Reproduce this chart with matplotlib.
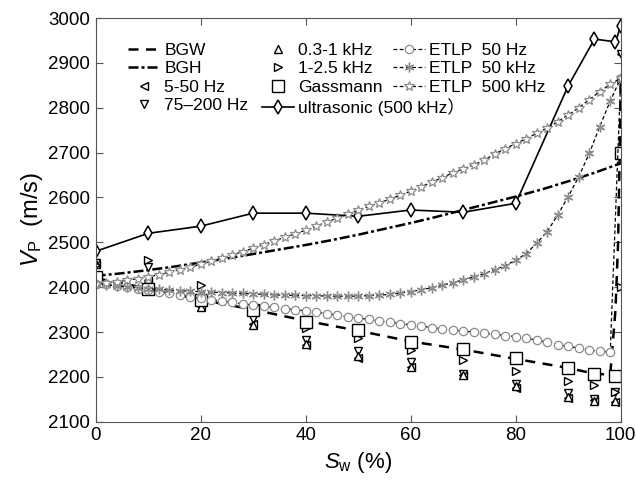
import matplotlib
matplotlib.use("Agg")
import matplotlib.pyplot as plt
from matplotlib.legend import Legend
from matplotlib.legend_handler import HandlerLine2D

plt.rcParams['font.family'] = ['Liberation Sans', 'Noto Sans CJK SC', 'DejaVu Sans']
plt.rcParams['mathtext.fontset'] = 'custom'
plt.rcParams['mathtext.rm'] = 'Liberation Sans'
plt.rcParams['mathtext.it'] = 'Liberation Sans:italic'

# ---- data ----
sw_bg = [0, 5, 10, 15, 20, 25, 30, 35, 40, 45, 50, 55, 60, 65, 70, 75, 80, 85, 90, 95, 100]
bgh = [2425, 2431, 2438, 2446, 2455, 2464, 2474, 2484, 2494, 2505, 2517, 2530,
       2543, 2557, 2572, 2587, 2602, 2618, 2636, 2655, 2676]

sw_bgw = [0, 10, 20, 30, 40, 50, 60, 70, 80, 90, 95, 98, 99, 99.5, 99.8, 100]
bgw = [2420, 2397, 2372, 2350, 2325, 2303, 2279, 2261, 2240, 2220, 2207, 2205,
       2350, 2500, 2700, 2866]

sw_meas = [0, 10, 20, 30, 40, 50, 60, 70, 80, 90, 95, 99, 100]
hz_5_50 = [2452, 2415, 2358, 2318, 2270, 2243, 2222, 2205, 2176, 2152, 2148, 2145, 2920]
hz_75_200 = [2453, 2444, 2368, 2328, 2283, 2257, 2234, 2207, 2185, 2163, 2150, 2167, 2920]
khz_03_1 = [2452, 2418, 2355, 2316, 2274, 2246, 2221, 2204, 2180, 2156, 2146, 2147, 2866]
khz_1_25 = [2450, 2460, 2405, 2352, 2308, 2286, 2260, 2237, 2214, 2191, 2182, 2167, 2400]

sw_gass = [0, 10, 20, 30, 40, 50, 60, 70, 80, 90, 95, 99, 100]
gassmann = [2423, 2395, 2371, 2350, 2323, 2304, 2278, 2262, 2241, 2220, 2206, 2202, 2700]

sw_us = [0, 10, 20, 30, 40, 50, 60, 70, 80, 90, 95, 99, 100]
ultrasonic = [2480, 2520, 2536, 2565, 2565, 2558, 2572, 2567, 2587, 2849, 2953, 2947, 2982]

sw_etlp = list(range(0, 101, 2))
etlp_50hz = [2408, 2406, 2403, 2400, 2397, 2394, 2390, 2386, 2382, 2378,
             2375, 2372, 2369, 2366, 2363, 2360, 2357, 2355, 2352, 2350,
             2347, 2344, 2341, 2338, 2334, 2331, 2328, 2325, 2322, 2319,
             2316, 2313, 2310, 2307, 2305, 2302, 2300, 2297, 2295, 2292,
             2290, 2286, 2282, 2277, 2272, 2268, 2264, 2260, 2257, 2255, 2866]
etlp_50khz = [2408, 2405, 2403, 2401, 2399, 2397, 2395, 2394, 2392, 2391,
              2390, 2389, 2388, 2387, 2386, 2385, 2384, 2383, 2382, 2382,
              2381, 2381, 2380, 2380, 2380, 2380, 2381, 2382, 2384, 2387,
              2390, 2394, 2399, 2404, 2410, 2416, 2423, 2430, 2439, 2448,
              2460, 2475, 2498, 2524, 2561, 2602, 2646, 2698, 2758, 2815, 2866]
etlp_500khz = [2408, 2410, 2412, 2415, 2419, 2423, 2428, 2433, 2439, 2445,
               2451, 2458, 2465, 2472, 2479, 2487, 2495, 2503, 2511, 2519,
               2527, 2536, 2545, 2554, 2563, 2572, 2580, 2588, 2596, 2605,
               2614, 2624, 2634, 2644, 2655, 2664, 2673, 2683, 2697, 2709,
               2720, 2731, 2743, 2755, 2769, 2784, 2800, 2818, 2836, 2852, 2866]

GREY = '#8c8c8c'
tri = dict(ls='none', mfc='white', mec='k', ms=6, mew=1)


class MarkerAt(HandlerLine2D):
    # legend handle with the marker placed left of centre (MATLAB look)
    def __init__(self, frac, **kw):
        super().__init__(**kw)
        self.frac = frac

    def get_xdata(self, legend, xdescent, ydescent, width, height, fontsize):
        xdata = [-xdescent, -xdescent + width]
        return xdata, [-xdescent + self.frac * width]


fig = plt.figure(figsize=(6.36, 4.87), dpi=100)
ax = fig.add_axes([0.1505, 0.134, 0.8255, 0.829])

l_bgw, = ax.plot(sw_bgw, bgw, color='k', lw=1.8, dashes=(4, 3), label='BGW')
l_bgh, = ax.plot(sw_bg, bgh, color='k', lw=1.8, dashes=(4, 1.2, 1.2, 1.2), label='BGH')
l_5, = ax.plot(sw_meas, hz_5_50, '<', label='5-50 Hz', **tri)
l_75, = ax.plot(sw_meas, hz_75_200, 'v', label='75\u2013200 Hz', **tri)
l_03, = ax.plot(sw_meas, khz_03_1, '^', label='0.3-1 kHz', **tri)
l_1, = ax.plot(sw_meas, khz_1_25, '>', label='1-2.5 kHz', **tri)
l_g, = ax.plot(sw_gass, gassmann, 's', ls='none', mfc='white', mec='k', ms=8.5, mew=1,
               label='Gassmann')
l_us, = ax.plot(sw_us, ultrasonic, '-', color='k', lw=1.2, marker='d', mfc='white', mec='k',
                ms=7, mew=1.1, label='ultrasonic (500 kHz\uff09')
l_e1, = ax.plot(sw_etlp, etlp_50hz, color='k', lw=0.9, dashes=(3, 2), marker='o', mfc='white',
                mec=GREY, ms=6, mew=0.9, label='ETLP  50 Hz')
l_e2, = ax.plot(sw_etlp, etlp_50khz, color='k', lw=0.9, dashes=(3, 2), marker=(6, 2, 0),
                mec=GREY, ms=7, mew=1.0, label='ETLP  50 kHz')
l_e3, = ax.plot(sw_etlp, etlp_500khz, color='k', lw=0.9, dashes=(3, 2), marker='*', mfc='white',
                mec=GREY, ms=7, mew=0.9, label='ETLP  500 kHz')

ax.set_xlim(0, 100)
ax.set_ylim(2100, 3000)
ax.set_xticks([0, 20, 40, 60, 80, 100])
ax.set_yticks(range(2100, 3001, 100))
ax.tick_params(direction='in', top=True, right=True, labelsize=13.5, length=5,
               color='#555555', width=0.8, pad=4)
for s in ax.spines.values():
    s.set_color('#555555')
    s.set_linewidth(0.8)

ax.set_xlabel(r'$S_\mathrm{w}$ (%)', fontsize=16, labelpad=4)
ax.set_ylabel(r'$V_\mathrm{P}$  (m/s)', fontsize=17, labelpad=2)

# three legend columns placed like the original (MATLAB lets them overlap)
columns = [
    ([l_bgw, l_bgh, l_5, l_75], 128, 0.28),
    ([l_03, l_1, l_g, l_us], 262, 0.2),
    ([l_e1, l_e2, l_e3], 393, 0.2),
]
for handles, xpix, frac in columns:
    leg = Legend(ax, handles, [h.get_label() for h in handles], loc='upper left',
                 bbox_to_anchor=(xpix / 636, 1 - 43 / 487), bbox_transform=fig.transFigure,
                 frameon=False, fontsize=12.5, handlelength=1.85, handletextpad=0.25,
                 labelspacing=0.18, numpoints=1, borderpad=0, borderaxespad=0,
                 handler_map={h: MarkerAt(frac) for h in handles})
    ax.add_artist(leg)

fig.savefig('out.png', dpi=100)
